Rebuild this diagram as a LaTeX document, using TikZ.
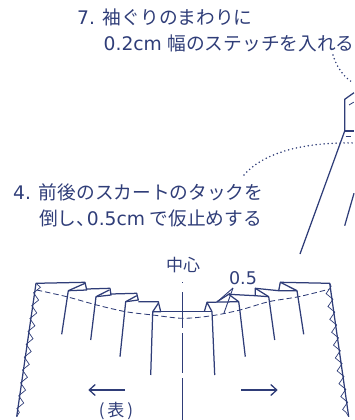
\documentclass[tikz,border=0pt]{standalone}
\usepackage{fontspec}
\usetikzlibrary{arrows.meta,decorations.pathmorphing}
\setmainfont{DejaVu Sans}
\newfontfamily\cjk{Noto Sans CJK JP}
\definecolor{inkblue}{HTML}{2F3D78}
\begin{document}
\begin{tikzpicture}[
    x=1pt, y=-1pt,
    every node/.style={draw=none, inner sep=0pt, text=inkblue, font=\fontsize{18.7}{20}\selectfont},
    seam/.style={draw=inkblue, line width=1.25pt, line join=round},
    stitch/.style={draw=inkblue, line width=0.85pt, dash pattern=on 5.5pt off 3pt},
    thin/.style={draw=inkblue, line width=0.9pt},
    zigzagline/.style={draw=inkblue, line width=0.7pt, decorate, decoration={zigzag, segment length=13pt, amplitude=3pt, raise=#1}},
    leader/.style={draw=inkblue, line width=1.7pt, dash pattern=on 0pt off 4pt, line cap=round},
    turn/.style={draw=inkblue, line width=1.3pt, -{Straight Barb[length=6pt,width=11pt]}}
]
\useasboundingbox (0,0) rectangle (354,420);
\node[anchor=west] (step7a) at (77,17) {7. {\cjk 袖ぐりのまわりに}};
\node[anchor=west] (step7b) at (103.5,43) {0.2cm\hspace{.3em}{\cjk 幅のステッチを入れる}};
\node[anchor=west] (step4a) at (13,192) {4. {\cjk 前後のスカートのタックを}};
\node[anchor=west] (step4b) at (39,218) {{\cjk 倒し、}\hspace{-.45em}0.5cm\hspace{.25em}{\cjk で仮止めする}};
\node[font=\fontsize{17}{18}\selectfont] (center) at (183,265) {\cjk 中心};
\node[font=\fontsize{17.5}{18}\selectfont] (half) at (243,278) {0.5};
\node[font=\fontsize{17}{18}\selectfont] (face) at (116,411) {\cjk (\,表\,)};
% leader dots
\draw[leader] (333,55) .. controls (337,68) and (344,77) .. (352,82);
\draw[leader] (244,175) .. controls (262,154) and (300,142) .. (354,143);
% bodice at right
\draw[seam] (354,92.7) -- (344.7,99.3) -- (344.7,131) -- (300,254);
\draw[seam] (344.7,131) -- (354,131);
\draw[seam] (354,193.3) -- (344.7,225.7);
\draw[stitch] (349,105) -- (354,102);
\draw[stitch] (345.7,136) -- (354,136);
% left half of the skirt
\draw[seam] (16.7,416.7) -- (36,283.3) -- (85,282.3) -- (86.7,290) -- (68.3,290.7) -- (61.7,334.3);
\draw[seam] (68.3,290.7) -- (85,283.3);
\draw[seam] (86.7,289) -- (110,288.3) -- (111,295) -- (96,296.7) -- (90.7,340);
\draw[seam] (96,296.7) -- (109.3,290);
\draw[seam] (111,294) -- (136.7,293.3) -- (138.3,300) -- (125.7,301.7) -- (120,356.7);
\draw[seam] (125.7,301.7) -- (136.7,295.7);
\draw[seam] (138.3,301.7) -- (158.3,301.7) -- (160.7,311.7) -- (152.7,311.7) -- (150.7,375);
\draw[seam] (152.7,311.7) -- (158.3,303.3);
\draw[seam] (152.7,311.7) -- (204.3,311.7);
% right half of the skirt
\draw[seam] (204.3,311.7) -- (207,302.3) -- (212,311.7) -- (214.7,375);
\draw[seam] (204.3,311.7) -- (212,311.7);
\draw[seam] (207,302.3) -- (238.7,301.7) -- (240,311.7) -- (245.3,356.7);
\draw[seam] (217,301.7) -- (230.3,293.3);
\draw[seam] (228.7,294.3) -- (255.3,295.7) -- (268.7,296.7) -- (274.7,340);
\draw[seam] (228.7,294.3) -- (238.7,301.7);
\draw[seam] (255.3,295.7) -- (255.3,288.3) -- (278.7,290.7) -- (297,290.7) -- (303.7,334.3);
\draw[seam] (255.3,288.3) -- (268.7,296.7);
\draw[seam] (278.7,290.7) -- (280.3,282.3) -- (329.7,283.3) -- (348.7,416.7);
\draw[seam] (280.3,282.3) -- (297,290.7);
% overlock at the side edges
\draw[zigzagline=2pt] (36,283.3) -- (16.7,416.7);
\draw[zigzagline=-2pt] (329.7,283.3) -- (348.7,416.7);
% stitch line across the tucks
\draw[stitch] plot[smooth] coordinates {(36.7,290) (66.7,296.7) (96.7,305) (125.7,311.7) (152.7,315) (182.7,318.3) (212,315.7) (240,310) (268.7,301.7) (298.7,296.7) (328.7,289.3)};
% centre line
\draw[thin, dash pattern=on 1pt off 9pt on 36pt off 5pt on 40pt off 5pt on 42pt] (182.7,282) -- (182.7,420);
% pointers of the 0.5
\draw[thin] (233,288) -- (217,302);
\draw[thin] (233,288) -- (224,313);
% fold directions
\draw[turn] (125,390) -- (88.3,390);
\draw[turn] (241,390) -- (277.7,390);
\end{tikzpicture}
\end{document}
